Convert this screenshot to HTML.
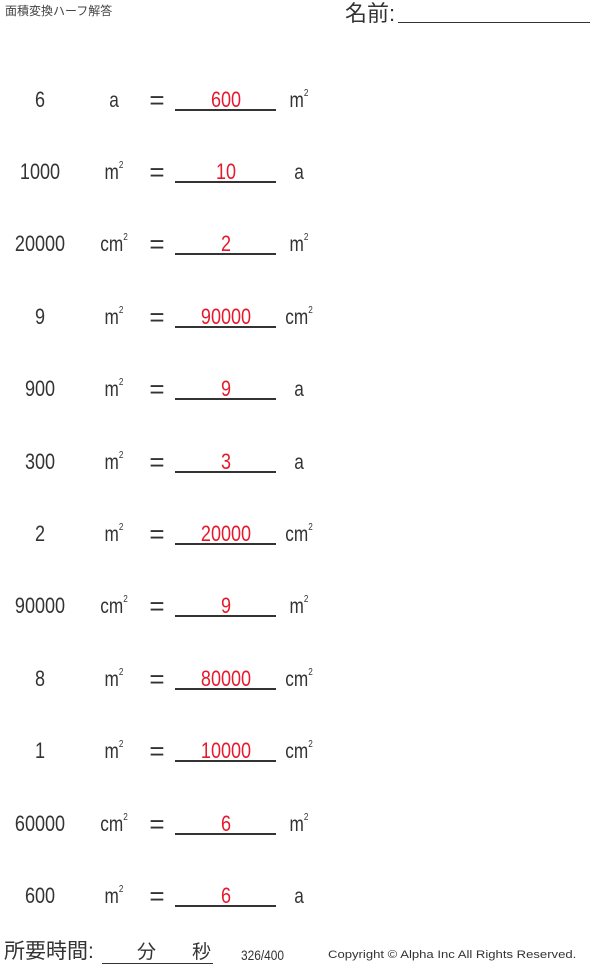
<!DOCTYPE html>
<html><head><meta charset="utf-8"><style>
body{margin:0;width:600px;height:967px;background:#fff;position:relative;font-family:"Liberation Sans","Noto Sans CJK JP",sans-serif;color:#333;overflow:hidden}
.t{position:absolute;white-space:nowrap;line-height:1}
.c{transform:translateX(-50%) scaleX(0.82);font-size:22px}
.r{color:#e8182c}
.u{position:absolute;height:1.5px;background:#333}
sup{font-size:10px;vertical-align:0;position:relative;top:-11px;margin-left:0}
</style></head><body>
<div class="t" style="left:5px;top:5px;font-size:12px;color:#444">面積変換ハーフ解答</div>
<div class="t" style="left:345px;top:3px;font-size:22px">名前:</div>
<div class="u" style="left:398px;top:22px;width:192px;height:1px"></div>
<div id="rows"></div>
<div class="t" style="left:4px;top:941px;font-size:21px">所要時間:</div>
<div class="u" style="left:102px;top:963px;width:111px;height:1px"></div>
<div class="t" style="left:137px;top:943px;font-size:19px">分</div>
<div class="t" style="left:192px;top:943px;font-size:19px">秒</div>
<div class="t" style="left:241px;top:948px;font-size:14px;transform:scaleX(0.85);transform-origin:left">326/400</div>
<div class="t" style="left:328px;top:950px;font-size:11px;transform:scaleX(1.19);transform-origin:left">Copyright © Alpha Inc All Rights Reserved.</div>
<script>
var d=[["6","a","600","m"],["1000","m","10","a"],["20000","cm","2","m"],["9","m","90000","cm"],["900","m","9","a"],["300","m","3","a"],["2","m","20000","cm"],["90000","cm","9","m"],["8","m","80000","cm"],["1","m","10000","cm"],["60000","cm","6","m"],["600","m","6","a"]];
var ys=[99,171,243,316,388,461,533,605,678,750,823,895],h="";
function u(s){return s=="a"?"a":s+"<sup>2</sup>";}
d.forEach(function(r,i){var y=ys[i]-10;
h+='<div class="t c" style="left:40px;top:'+y+'px">'+r[0]+'</div>';
h+='<div class="t c" style="left:114px;top:'+(y+1)+'px;font-size:21px">'+u(r[1])+'</div>';
h+='<div class="t c" style="left:157px;top:'+(y-2)+'px;font-size:26px;transform:translateX(-50%) scaleX(1)">=</div>';
h+='<div class="t c r" style="left:226px;top:'+y+'px">'+r[2]+'</div>';
h+='<div class="u" style="left:175px;top:'+(ys[i]+10)+'px;width:101px"></div>';
h+='<div class="t c" style="left:299px;top:'+(y+1)+'px;font-size:21px">'+u(r[3])+'</div>';});
document.getElementById("rows").innerHTML=h;
</script>
</body></html>
